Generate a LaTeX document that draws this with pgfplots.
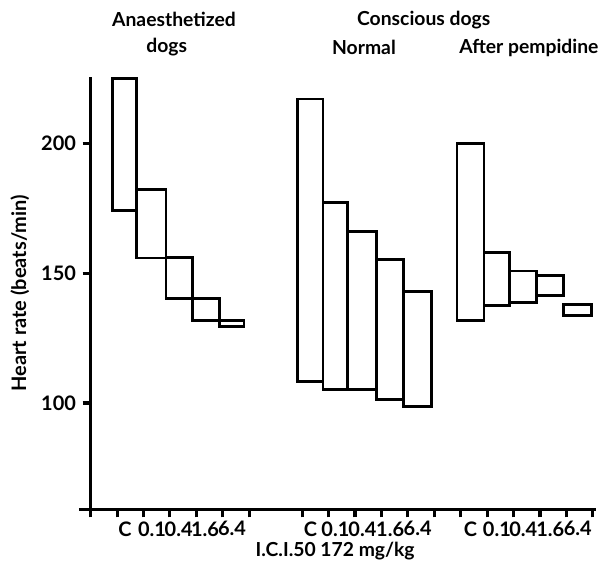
\documentclass[border=0pt]{standalone}
\usepackage{fontspec}
\setmainfont{Lato}
\usepackage{pgfplots}
\pgfplotsset{compat=1.18}
\pgfplotsset{hr/.style={black, solid, line width=2.2pt, mark=none}}
\begin{document}
\fontsize{14.5}{17}\selectfont\bfseries
\begin{tikzpicture}
\begin{axis}[
    width=379pt, height=324.75pt, scale only axis,
    xmin=0, xmax=19.1,
    ymin=59, ymax=225.5,
    axis lines=left,
    axis line style={-, line width=2.3pt},
    clip=false,
    xtick={0,...,6,8,9,...,19},
    xticklabels={},
    ytick={100,150,200},
    tick align=outside,
    major tick length=6pt,
    tick style={line width=2.3pt, black},
    extra x ticks={1.30,2.32,3.33,4.33,5.35,8.32,9.26,10.28,11.33,12.37,14.37,15.37,16.37,17.39,18.43},
    extra x tick labels={C,0.1,0.4,1.6,6.4,C,0.1,0.4,1.6,6.4,C,0.1,0.4,1.6,6.4},
    extra x tick style={major tick length=0pt},
    xticklabel style={yshift=-4pt},
    ticklabel style={font=\fontsize{15}{17}\selectfont\bfseries},
    /pgf/number format/assume math mode=true,
    ylabel={Heart rate (beats/min)},
    ylabel style={font=\fontsize{15}{17}\selectfont\bfseries, yshift=-1pt},
]

% Anaesthetized dogs
\addplot[hr] coordinates {(0.81,174.1) (1.75,174.1) (1.75,225.0) (0.81,225.0)} -- cycle;
\addplot[hr] coordinates {(1.75,155.8) (2.85,155.8) (2.85,182.2) (1.75,182.2)} -- cycle;
\addplot[hr] coordinates {(2.85,140.2) (3.84,140.2) (3.84,156.0) (2.85,156.0)} -- cycle;
\addplot[hr] coordinates {(3.84,131.9) (4.86,131.9) (4.86,140.2) (3.84,140.2)} -- cycle;
\addplot[hr] coordinates {(4.86,129.3) (5.80,129.3) (5.80,131.9) (4.86,131.9)} -- cycle;

% Conscious dogs, normal
\addplot[hr] coordinates {(7.84,108.2) (8.79,108.2) (8.79,217.0) (7.84,217.0)} -- cycle;
\addplot[hr] coordinates {(8.79,105.2) (9.73,105.2) (9.73,177.0) (8.79,177.0)} -- cycle;
\addplot[hr] coordinates {(9.73,105.2) (10.83,105.2) (10.83,166.1) (9.73,166.1)} -- cycle;
\addplot[hr] coordinates {(10.83,101.5) (11.82,101.5) (11.82,155.3) (10.83,155.3)} -- cycle;
\addplot[hr] coordinates {(11.82,98.6) (12.91,98.6) (12.91,142.9) (11.82,142.9)} -- cycle;

% Conscious dogs, after pempidine
\addplot[hr] coordinates {(13.86,131.6) (14.88,131.6) (14.88,199.8) (13.86,199.8)} -- cycle;
\addplot[hr] coordinates {(14.88,137.4) (15.86,137.4) (15.86,157.9) (14.88,157.9)} -- cycle;
\addplot[hr] coordinates {(15.86,138.7) (16.88,138.7) (16.88,150.8) (15.86,150.8)} -- cycle;
\addplot[hr] coordinates {(16.88,141.5) (17.90,141.5) (17.90,148.9) (16.88,148.9)} -- cycle;
\addplot[hr] coordinates {(17.90,133.5) (18.96,133.5) (18.96,138.0) (17.90,138.0)} -- cycle;

% axis stub left of the origin
\draw[line width=2.3pt] (axis cs:-0.45,59) -- (axis cs:0,59);

% group titles
\node at (axis cs:3.15,247.5) {Anaesthetized};
\node at (axis cs:2.88,236.8) {dogs};
\node at (axis cs:12.6,247.5) {Conscious dogs};
\node at (axis cs:10.34,236.8) {Normal};
\node at (axis cs:16.58,236.8) {After pempidine};

% x label
\node at (axis cs:9.25,59) [yshift=-31.5pt] {I.C.I.50 172 mg/kg};

% frame of the whole figure
\path (axis cs:-3.43,36.7) rectangle (axis cs:19.61,255.1);

\end{axis}
\end{tikzpicture}
\end{document}
